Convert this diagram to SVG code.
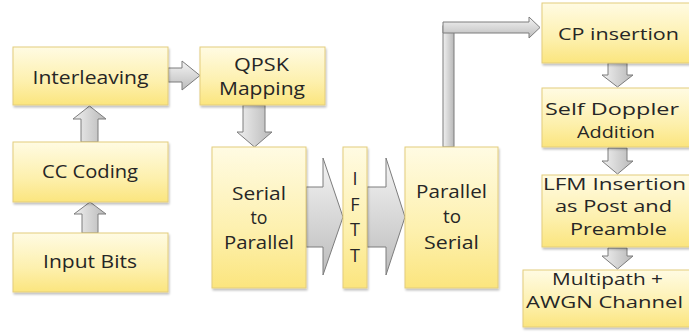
<svg xmlns="http://www.w3.org/2000/svg" width="689" height="332" viewBox="0 0 689 332">
  <defs>
    <linearGradient id="boxFill" x1="0" y1="0" x2="0" y2="1">
      <stop offset="0" stop-color="#fffbe3"/>
      <stop offset="0.6" stop-color="#fdf0ad"/>
      <stop offset="1" stop-color="#fbe57e"/>
    </linearGradient>
    <linearGradient id="arrowFill" x1="0" y1="0" x2="0" y2="1">
      <stop offset="0" stop-color="#f4f4f4"/>
      <stop offset="1" stop-color="#bcbcbc"/>
    </linearGradient>
    <linearGradient id="arrowFillV" x1="0" y1="0" x2="1" y2="0">
      <stop offset="0" stop-color="#f0f0f0"/>
      <stop offset="1" stop-color="#b8b8b8"/>
    </linearGradient>
    <filter id="shadow" x="-10%" y="-10%" width="130%" height="130%">
      <feGaussianBlur in="SourceAlpha" stdDeviation="1.2"/>
      <feOffset dx="1" dy="1.5" result="b"/>
      <feComponentTransfer><feFuncA type="linear" slope="0.25"/></feComponentTransfer>
      <feMerge><feMergeNode/><feMergeNode in="SourceGraphic"/></feMerge>
    </filter>
  </defs>
  <style>
    .box { fill: url(#boxFill); stroke: #e3cd7c; stroke-width: 1; filter: url(#shadow); }
    .arrow { fill: url(#arrowFill); stroke: #7c7c7c; stroke-width: 1; stroke-linejoin: miter; }
    .arrowV { fill: url(#arrowFillV); stroke: #7c7c7c; stroke-width: 1; }
    text { font-family: "Open Sans", "Noto Sans", "DejaVu Sans", sans-serif; font-size: 18px; fill: #262626; text-anchor: middle; }
    .big { font-size: 17px; }
  </style>

  <rect width="689" height="332" fill="#ffffff"/>

  <!-- connectors -->
  <g id="connectors">
    <polygon class="arrowV" points="89.5,106 106,119 98,119 98,142 81,142 81,119 73,119"/>
    <polygon class="arrowV" points="90,202 106,214 98,214 98,233 82,233 82,214 74,214"/>
    <polygon class="arrow" points="168,68 182,68 182,61 200,75.5 182,90 182,82 168,82"/>
    <polygon class="arrowV" points="243,105 265,105 265,132 272,132 254.5,147 237,132 243,132"/>
    <polygon class="arrow" points="306,187 323,187 323,158 343,217 323,275 323,247 306,247"/>
    <polygon class="arrow" points="367,187 386,187 386,158 405,217 386,275 386,247 367,247"/>
    <rect class="arrowV" x="443" y="26" width="11" height="121"/>
    <polygon class="arrow" points="443,22 529,22 529,17 540,27.5 529,38 529,33 443,33"/>
    <polygon class="arrowV" points="608,63 627,63 627,75 633,75 617.5,87 602,75 608,75"/>
    <polygon class="arrowV" points="608,148 627,148 627,161 633,161 617.5,174 602,161 608,161"/>
    <polygon class="arrowV" points="608,248 627,248 627,256 633,256 617.5,269 602,256 608,256"/>
  </g>

  <g id="interleaving">
    <rect class="box" x="13" y="47" width="155" height="58"/>
    <text x="90.5" y="84" textLength="116" lengthAdjust="spacingAndGlyphs">Interleaving</text>
  </g>
  <g id="cc-coding">
    <rect class="box" x="13" y="142" width="155" height="60"/>
    <text x="90" y="178" textLength="96" lengthAdjust="spacingAndGlyphs">CC Coding</text>
  </g>
  <g id="input-bits">
    <rect class="box" x="13" y="233" width="155" height="59"/>
    <text x="90" y="268" textLength="94" lengthAdjust="spacingAndGlyphs">Input Bits</text>
  </g>
  <g id="qpsk-mapping">
    <rect class="box" x="200" y="47" width="125" height="58"/>
    <text x="261.5" y="71" textLength="55" lengthAdjust="spacingAndGlyphs">QPSK</text>
    <text x="262" y="95" textLength="86" lengthAdjust="spacingAndGlyphs">Mapping</text>
  </g>
  <g id="serial-to-parallel">
    <rect class="box" x="212" y="147" width="94" height="141"/>
    <text x="259" y="200" textLength="54" lengthAdjust="spacingAndGlyphs">Serial</text>
    <text x="259" y="224" textLength="17" lengthAdjust="spacingAndGlyphs">to</text>
    <text x="259" y="249" textLength="70" lengthAdjust="spacingAndGlyphs">Parallel</text>
  </g>
  <g id="iftt">
    <rect class="box" x="343" y="147" width="24" height="141"/>
    <text x="355" y="185">I</text>
    <text x="355" y="211">F</text>
    <text x="355" y="236">T</text>
    <text x="355" y="262">T</text>
  </g>
  <g id="parallel-to-serial">
    <rect class="box" x="405" y="147" width="93" height="141"/>
    <text x="451.5" y="198" textLength="71" lengthAdjust="spacingAndGlyphs">Parallel</text>
    <text x="452" y="223" textLength="18" lengthAdjust="spacingAndGlyphs">to</text>
    <text x="451.5" y="249" textLength="55" lengthAdjust="spacingAndGlyphs">Serial</text>
  </g>
  <g id="cp-insertion">
    <rect class="box" x="542" y="3" width="150" height="60"/>
    <text class="big" x="618.5" y="40" textLength="121" lengthAdjust="spacingAndGlyphs">CP insertion</text>
  </g>
  <g id="self-doppler">
    <rect class="box" x="542" y="88" width="150" height="59"/>
    <text class="big" x="612" y="115" textLength="134" lengthAdjust="spacingAndGlyphs">Self Doppler</text>
    <text class="big" x="616" y="138" textLength="78" lengthAdjust="spacingAndGlyphs">Addition</text>
  </g>
  <g id="lfm-insertion">
    <rect class="box" x="542" y="175" width="150" height="72"/>
    <text class="big" x="614.5" y="190" textLength="143" lengthAdjust="spacingAndGlyphs">LFM Insertion</text>
    <text class="big" x="613.5" y="212" textLength="117" lengthAdjust="spacingAndGlyphs">as Post and</text>
    <text class="big" x="618.5" y="235" textLength="97" lengthAdjust="spacingAndGlyphs">Preamble</text>
  </g>
  <g id="multipath-awgn">
    <rect class="box" x="523" y="270" width="170" height="57"/>
    <text class="big" x="607.5" y="285" textLength="111" lengthAdjust="spacingAndGlyphs">Multipath +</text>
    <text class="big" x="604.5" y="308" textLength="157" lengthAdjust="spacingAndGlyphs">AWGN Channel</text>
  </g>
</svg>
